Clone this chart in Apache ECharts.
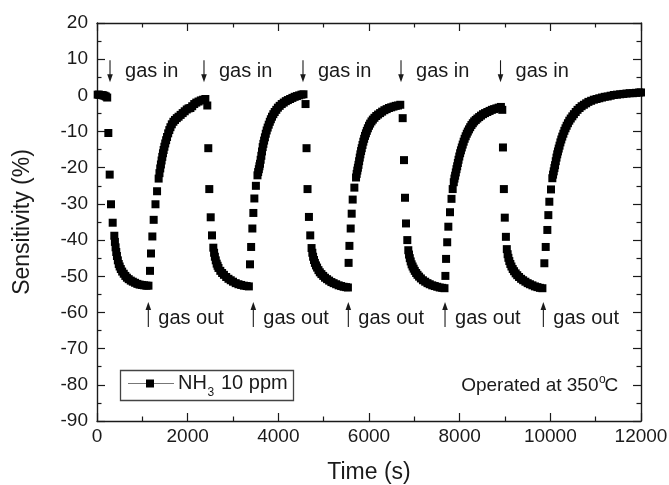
<!DOCTYPE html>
<html>
<head>
<meta charset="utf-8">
<script src="https://cdn.jsdelivr.net/npm/echarts@6/dist/echarts.min.js"></script>
<style>
  html, body { margin: 0; padding: 0; background: #fff; }
  #chart { width: 669px; height: 485px; }
</style>
</head>
<body>
<div id="chart"></div>
<script>
// Axis tick values
const timeTicks = [0, 2000, 4000, 6000, 8000, 10000, 12000];
const sensTicks = [-90, -80, -70, -60, -50, -40, -30, -20, -10, 0, 10, 20];

// Sensor response to NH3 10 ppm, [time (s), sensitivity (%)]
const baseline = [[15,0.2],[45,0.2],[75,0.1],[105,0.1],[135,0],[165,-0.1],[195,-0.3],[225,-0.6]];

const cycle1 = [
  [250,-10.4],[280,-21.9],[309,-30.1],[346,-35.2],[382,-38.8],[395,-40.5],[410,-42.0],[425,-43.3],[440,-44.4],
  [460,-45.6],[480,-46.6],[500,-47.3],[525,-48.0],[555,-48.7],[590,-49.3],[625,-49.9],[660,-50.4],[700,-50.8],
  [745,-51.2],[790,-51.5],[840,-51.8],[890,-52.1],[940,-52.3],[990,-52.4],[1040,-52.5],[1090,-52.6],[1135,-52.6],
  [1169,-48.5],[1191,-43.7],[1221,-39.0],[1250,-34.4],[1290,-30.1],[1325,-26.5],[1360,-23.0],[1378,-21.5],
  [1395,-20.2],[1410,-19.1],[1425,-18.0],[1440,-17.0],[1455,-16.0],[1470,-15.1],[1487,-14.2],[1505,-13.3],
  [1525,-12.4],[1545,-11.5],[1570,-10.5],[1595,-9.6],[1620,-8.8],[1650,-8.0],[1685,-7.3],[1720,-6.8],
  [1760,-6.3],[1800,-5.9],[1845,-5.4],[1890,-4.9],[1935,-4.4],[1980,-3.9],[2020,-3.6],[2060,-3.5],
  [2100,-3.0],[2145,-2.4],[2190,-2.0],[2240,-1.7],[2290,-1.4],[2340,-1.2],[2390,-1.0]
];

const cycle2 = [
  [2433,-2.8],[2455,-14.6],[2477,-25.9],[2508,-33.7],[2537,-38.7],[2566,-42.1],[2583,-43.5],[2600,-44.6],
  [2620,-45.6],[2640,-46.5],[2660,-47.1],[2680,-47.7],[2720,-48.5],[2760,-49.1],[2800,-49.6],[2850,-50.2],
  [2900,-50.7],[2950,-51.1],[3000,-51.5],[3060,-51.9],[3120,-52.2],[3180,-52.4],[3240,-52.6],[3300,-52.7],
  [3350,-52.8],
  [3375,-46.7],[3400,-41.9],[3427,-36.8],[3449,-32.5],[3471,-28.5],[3505,-25.0],[3540,-22.1],[3555,-21.2],
  [3570,-20.4],[3583,-19.6],[3596,-18.9],[3610,-17.8],[3625,-16.7],[3640,-15.5],[3655,-14.3],[3670,-13.4],
  [3686,-12.5],[3704,-11.6],[3723,-10.6],[3743,-9.7],[3765,-8.9],[3788,-8.1],[3812,-7.3],[3835,-6.6],
  [3860,-5.9],[3890,-5.2],[3920,-4.6],[3955,-4.0],[3990,-3.4],[4030,-2.9],[4075,-2.4],[4120,-2.0],
  [4165,-1.6],[4210,-1.3],[4260,-1.0],[4310,-0.7],[4360,-0.4],[4410,-0.2],[4460,0],[4510,0.2],[4555,0.3]
];

const cycle3 = [
  [4600,-2.4],[4622,-14.6],[4644,-25.9],[4675,-33.6],[4704,-38.7],[4733,-42.2],[4750,-43.5],[4767,-44.6],
  [4787,-45.5],[4807,-46.3],[4830,-47.0],[4855,-47.6],[4885,-48.3],[4915,-48.9],[4950,-49.4],[4990,-49.9],
  [5030,-50.4],[5075,-50.8],[5120,-51.2],[5170,-51.6],[5220,-51.9],[5275,-52.2],[5330,-52.5],[5385,-52.7],
  [5440,-52.9],[5495,-53.0],[5535,-53.1],
  [5550,-46.3],[5568,-41.6],[5596,-36.8],[5618,-32.7],[5640,-28.8],[5677,-25.5],[5714,-22.7],[5728,-21.7],
  [5742,-20.8],[5755,-20.0],[5768,-19.2],[5782,-18.2],[5796,-17.2],[5810,-16.3],[5825,-15.4],[5840,-14.6],
  [5857,-13.7],[5875,-12.8],[5893,-12.0],[5912,-11.2],[5932,-10.5],[5952,-9.8],[5975,-9.1],[6000,-8.4],
  [6025,-7.8],[6055,-7.2],[6085,-6.7],[6120,-6.2],[6160,-5.7],[6200,-5.3],[6245,-4.9],[6290,-4.5],
  [6340,-4.1],[6390,-3.8],[6440,-3.5],[6490,-3.3],[6540,-3.1],[6590,-2.9],[6640,-2.8],[6690,-2.6]
];

const cycle4 = [
  [6743,-6.3],[6772,-17.9],[6794,-28.3],[6816,-35.4],[6845,-40.0],[6867,-42.8],[6883,-44.0],[6900,-45.0],
  [6920,-45.9],[6940,-46.7],[6962,-47.3],[6985,-47.9],[7010,-48.5],[7040,-49.1],[7070,-49.6],[7105,-50.1],
  [7145,-50.6],[7190,-51.1],[7240,-51.5],[7290,-51.9],[7340,-52.2],[7395,-52.5],[7450,-52.7],[7505,-52.9],
  [7560,-53.1],[7615,-53.2],[7665,-53.3],
  [7685,-49.9],[7700,-45.2],[7725,-40.6],[7750,-36.3],[7787,-32.3],[7820,-28.6],[7846,-25.9],[7870,-24.0],
  [7885,-23.0],[7900,-22.2],[7915,-21.3],[7930,-20.4],[7945,-19.6],[7960,-18.7],[7975,-17.8],[7992,-16.9],
  [8010,-16.0],[8028,-15.2],[8047,-14.4],[8067,-13.6],[8088,-12.8],[8110,-12.0],[8133,-11.3],[8157,-10.6],
  [8180,-10.0],[8205,-9.4],[8232,-8.8],[8260,-8.2],[8290,-7.7],[8320,-7.2],[8355,-6.8],[8390,-6.4],
  [8430,-6.0],[8470,-5.6],[8515,-5.2],[8560,-4.9],[8610,-4.6],[8660,-4.3],[8710,-4.0],[8760,-3.8],
  [8810,-3.6],[8860,-3.4],[8910,-3.2]
];

const cycle5 = [
  [8940,-4.0],[8955,-14.4],[8975,-25.9],[8995,-33.8],[9020,-39.1],[9040,-42.5],[9058,-43.9],[9075,-44.9],
  [9095,-45.8],[9118,-46.6],[9142,-47.3],[9170,-48.0],[9200,-48.6],[9235,-49.2],[9270,-49.7],[9310,-50.2],
  [9355,-50.7],[9400,-51.1],[9450,-51.5],[9500,-51.9],[9550,-52.2],[9605,-52.5],[9660,-52.8],[9715,-53.0],
  [9770,-53.2],[9825,-53.3],
  [9868,-46.4],[9898,-41.9],[9934,-37.2],[9956,-33.1],[9978,-29.4],[10015,-26.0],[10044,-22.9],[10060,-21.9],
  [10075,-21.0],[10090,-20.1],[10104,-19.3],[10120,-18.2],[10136,-17.2],[10152,-16.3],[10168,-15.5],
  [10185,-14.7],[10203,-13.9],[10222,-13.0],[10242,-12.2],[10263,-11.4],[10287,-10.6],[10310,-9.8],
  [10335,-9.1],[10360,-8.4],[10388,-7.7],[10418,-7.0],[10450,-6.4],[10485,-5.8],[10520,-5.2],[10560,-4.6],
  [10600,-4.0],[10645,-3.5],[10690,-3.0],[10740,-2.6],[10790,-2.2],[10840,-1.8],[10900,-1.5],[10960,-1.2],
  [11020,-1.0],[11080,-0.8],[11140,-0.6],[11200,-0.4],[11265,-0.3],[11330,-0.1],[11400,0.1],[11470,0.2],
  [11540,0.3],[11610,0.4],[11680,0.5],[11750,0.6],[11820,0.6],[11890,0.7],[11960,0.8],[12000,0.8]
];

// Gas switching times (s)
const gasInTimes = [287, 2360, 4544, 6706, 8901];
const gasOutTimes = [1132, 3448, 5544, 7677, 9846];

const seriesName = 'NH3 10 ppm';
const FONT = '"Liberation Sans", Arial, Helvetica, sans-serif';
const INK = '#1a1a1a';

const allPoints = baseline.concat(cycle1, cycle2, cycle3, cycle4, cycle5);

const axisLine = { show: true, onZero: false, lineStyle: { color: INK, width: 1.4 } };
const tick = { show: true, inside: true, length: 8, lineStyle: { color: INK, width: 1.2 } };
const minor = { show: true, splitNumber: 2, length: 4.5, lineStyle: { color: INK, width: 1.2 } };

const tMin = timeTicks[0], tMax = timeTicks[timeTicks.length - 1], tStep = timeTicks[1] - timeTicks[0];
const sMin = sensTicks[0], sMax = sensTicks[sensTicks.length - 1], sStep = sensTicks[1] - sensTicks[0];

const plain = v => String(v);

const option = {
  animation: false,
  backgroundColor: '#fff',
  textStyle: { fontFamily: FONT },
  grid: { left: 97, right: 28, top: 23, bottom: 64, containLabel: false, outerBoundsMode: 'none' },
  xAxis: [
    {
      type: 'value', min: tMin, max: tMax, interval: tStep, position: 'bottom',
      name: 'Time (s)', nameLocation: 'middle', nameGap: 40,
      nameTextStyle: { fontSize: 23, color: INK, fontFamily: FONT },
      axisLine: axisLine, axisTick: tick, minorTick: minor,
      splitLine: { show: false },
      axisLabel: { fontSize: 19, color: INK, margin: 6, fontFamily: FONT, hideOverlap: false, formatter: plain }
    },
    {
      type: 'value', min: tMin, max: tMax, interval: tStep, position: 'top',
      axisLine: axisLine, axisTick: tick, minorTick: minor,
      splitLine: { show: false }, axisLabel: { show: false }
    }
  ],
  yAxis: [
    {
      type: 'value', min: sMin, max: sMax, interval: sStep, position: 'left',
      name: 'Sensitivity (%)', nameLocation: 'middle', nameGap: 63, nameRotate: 90,
      nameTextStyle: { fontSize: 23, color: INK, fontFamily: FONT },
      axisLine: axisLine, axisTick: tick, minorTick: minor,
      splitLine: { show: false },
      axisLabel: { fontSize: 19, color: INK, margin: 9, fontFamily: FONT, hideOverlap: false, formatter: plain }
    },
    {
      type: 'value', min: sMin, max: sMax, interval: sStep, position: 'right',
      axisLine: axisLine, axisTick: tick, minorTick: minor,
      splitLine: { show: false }, axisLabel: { show: false }
    }
  ],
  series: [
    {
      name: seriesName,
      type: 'scatter',
      xAxisIndex: 0, yAxisIndex: 0,
      symbol: 'rect', symbolSize: 8,
      itemStyle: { color: '#000', opacity: 1 },
      data: allPoints,
      clip: false
    }
  ]
};

const chart = echarts.init(document.getElementById('chart'));
chart.setOption(option);

const toPx = (t, v) => chart.convertToPixel({ xAxisIndex: 0, yAxisIndex: 0 }, [t, v]);

function arrow(x, yFrom, yTip) {
  const dir = yTip > yFrom ? 1 : -1;
  const headLen = 8, headHalf = 2.8;
  return [
    { type: 'line', shape: { x1: x, y1: yFrom, x2: x, y2: yTip - dir * (headLen - 1) },
      style: { stroke: INK, lineWidth: 1.1 }, silent: true },
    { type: 'polygon', shape: { points: [[x - headHalf, yTip - dir * headLen], [x + headHalf, yTip - dir * headLen], [x, yTip]] },
      style: { fill: INK }, silent: true }
  ];
}

function label(text, x, y, size) {
  return { type: 'text', x: x, y: y, silent: true,
    style: { text: text, fill: INK, font: size + 'px ' + FONT, align: 'left', verticalAlign: 'middle' } };
}

const els = [];
gasInTimes.forEach(t => {
  const top = toPx(t, 9.7), tip = toPx(t, 3.6), mid = toPx(t, 6.6);
  els.push(...arrow(top[0], top[1], tip[1]));
  els.push(label('gas in', top[0] + 15, mid[1], 20));
});
gasOutTimes.forEach(t => {
  const bottom = toPx(t, -64.0), tip = toPx(t, -57.1), mid = toPx(t, -61.8);
  els.push(...arrow(bottom[0], bottom[1], tip[1]));
  els.push(label('gas out', bottom[0] + 10, mid[1], 20));
});

// Legend box
els.push({ type: 'rect', shape: { x: 120.5, y: 370.5, width: 173, height: 30 },
  style: { fill: '#fff', stroke: '#444', lineWidth: 1.3 }, silent: true });
els.push({ type: 'line', shape: { x1: 128, y1: 383.5, x2: 174, y2: 383.5 },
  style: { stroke: '#777', lineWidth: 1 }, silent: true });
els.push({ type: 'rect', shape: { x: 146, y: 379.5, width: 8, height: 8 }, style: { fill: '#000' }, silent: true });
els.push(label('NH', 178, 383, 20));
els.push(label('3', 207.5, 393, 12));
els.push(label('10 ppm', 221, 383, 20));

// Operating temperature note
els.push({ type: 'text', x: 598.5, y: 385.5, silent: true,
  style: { text: 'Operated at 350', fill: INK, font: '19px ' + FONT, align: 'right', verticalAlign: 'middle' } });
els.push(label('o', 599, 380, 12));
els.push(label('C', 604.5, 385.5, 19));

chart.setOption({ graphic: els });
</script>
</body>
</html>
